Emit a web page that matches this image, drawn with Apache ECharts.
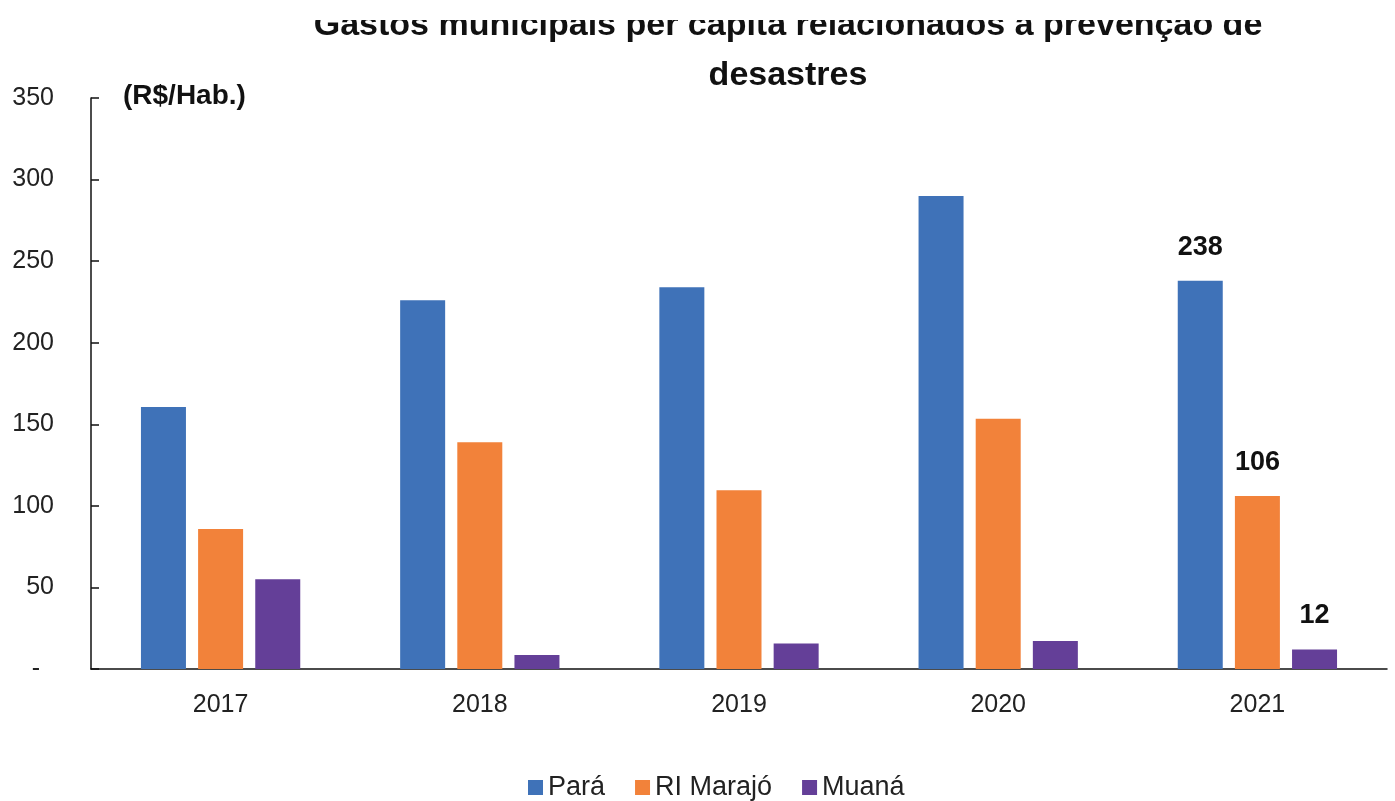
<!DOCTYPE html>
<html>
<head>
<meta charset="utf-8">
<title>Gastos municipais per capita</title>
<script src="https://cdn.jsdelivr.net/npm/echarts@6/dist/echarts.min.js"></script>
<style>
  html, body { margin: 0; padding: 0; background: #fff; }
  #chart { width: 1395px; height: 801px; }
</style>
</head>
<body>
<div id="chart"></div>
<script>
// dados (R$/Hab.)
const anos = ["2017", "2018", "2019", "2020", "2021"];
const para = [160.6, 226, 234, 290, 238];
const marajo = [85.8, 139, 109.5, 153.4, 106];
const muana = [55, 8.6, 15.7, 17.2, 12];
const nomes = ["Pará", "RI Marajó", "Muaná"];
const cores = ["#3F72B8", "#F2823A", "#643F98"];

const fonte = "'Liberation Sans', Arial, sans-serif";

const chart = echarts.init(document.getElementById("chart"));

// só o último ano tem rótulo
const rotulo = {
  show: true,
  position: "top",
  distance: 20,
  fontFamily: fonte,
  fontSize: 27,
  fontWeight: "bold",
  color: "#111",
  formatter: p => (p.dataIndex === anos.length - 1 ? Math.round(p.value) : "")
};

const serie = (nome, dados, cor) => ({
  name: nome,
  type: "bar",
  data: dados,
  barWidth: 45,
  barGap: "27%",
  itemStyle: { color: cor },
  label: rotulo
});

const option = {
  animation: false,
  textStyle: { fontFamily: fonte },
  title: {
    text: "Gastos municipais per capita relacionados à prevenção de\ndesastres",
    left: 783,
    top: -4,
    textAlign: "center",
    textStyle: {
      fontFamily: fonte,
      fontSize: 34,
      fontWeight: "bold",
      color: "#111",
      lineHeight: 50
    }
  },
  legend: {
    data: nomes,
    left: 523,
    top: 769,
    itemWidth: 15,
    itemHeight: 15,
    itemGap: 30,
    icon: "rect",
    textStyle: { fontSize: 27, color: "#222", fontFamily: fonte }
  },
  grid: { left: 91, right: 8, top: 98, bottom: 132 },
  xAxis: {
    type: "category",
    data: anos,
    axisLine: { lineStyle: { color: "#111", width: 1.5 } },
    axisTick: { inside: true, length: 10, lineStyle: { color: "#111", width: 1.5 } },
    axisLabel: { fontSize: 25, color: "#222", margin: 24, fontFamily: fonte }
  },
  yAxis: {
    type: "value",
    min: 0,
    max: 350,
    interval: 50,
    name: "(R$/Hab.)",
    nameLocation: "end",
    nameGap: 2,
    nameTextStyle: {
      align: "left",
      verticalAlign: "middle",
      padding: [0, 0, 0, 32],
      fontSize: 28,
      fontWeight: "bold",
      color: "#111",
      fontFamily: fonte
    },
    splitLine: { show: false },
    axisLine: { show: true, lineStyle: { color: "#111", width: 1.5 } },
    axisTick: { show: true, inside: true, length: 8, lineStyle: { color: "#111", width: 1.5 } },
    axisLabel: {
      fontSize: 25,
      color: "#222",
      margin: 37,
      fontFamily: fonte,
      formatter: v => (v === 0 ? "-  " : v)
    }
  },
  graphic: [
    // a primeira linha do título aparece cortada no original
    { type: "rect", z: 100, shape: { x: 0, y: 0, width: 1395, height: 20 }, style: { fill: "#fff" } }
  ],
  series: [
    serie(nomes[0], para, cores[0]),
    serie(nomes[1], marajo, cores[1]),
    serie(nomes[2], muana, cores[2])
  ]
};

chart.setOption(option);
window.addEventListener("resize", () => chart.resize());
</script>
</body>
</html>
